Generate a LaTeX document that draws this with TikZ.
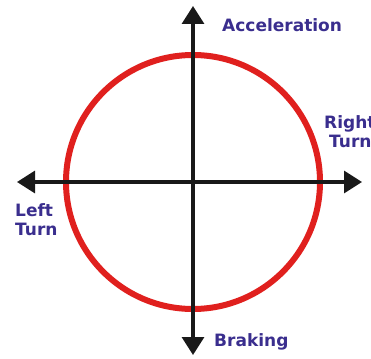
\documentclass[tikz,border=0pt]{standalone}
\usepackage{fontspec}
\setmainfont{DejaVu Sans}
\usetikzlibrary{arrows.meta}
\definecolor{lbl}{HTML}{3A2E8E}
\definecolor{ring}{HTML}{E0201E}
\tikzset{
  lab/.style={font=\bfseries\fontsize{17}{19}\selectfont, text=lbl, inner sep=0pt, align=left},
  axis/.style={line width=3.2pt, draw=black!90, -{Triangle[width=22pt,length=18pt]}},
}
\begin{document}
\begin{tikzpicture}[x=1pt,y=-1pt]
\useasboundingbox (0,0) rectangle (371,358);
\coordinate (c) at (193,182);
\node[draw=ring, line width=6pt, circle, minimum size=254pt, inner sep=0pt] (ring) at (193,182) {};
\coordinate (top) at (193,6);
\coordinate (bot) at (193,355);
\coordinate (lft) at (17,182);
\coordinate (rgt) at (362,182);
\draw[axis] (c) -- (top);
\draw[axis] (c) -- (bot);
\draw[axis] (c) -- (lft);
\draw[axis] (c) -- (rgt);
\node[lab, anchor=west] (acc) at (222,25) {Acceleration};
\node[lab, anchor=west] (brk) at (214,342) {Braking};
\node[lab, anchor=north west] (lt) at (15,203) {Left\\Turn};
\node[lab, anchor=north west] (rt) at (324,115) {Right\\\hspace*{5pt}Turn};
\end{tikzpicture}
\end{document}
